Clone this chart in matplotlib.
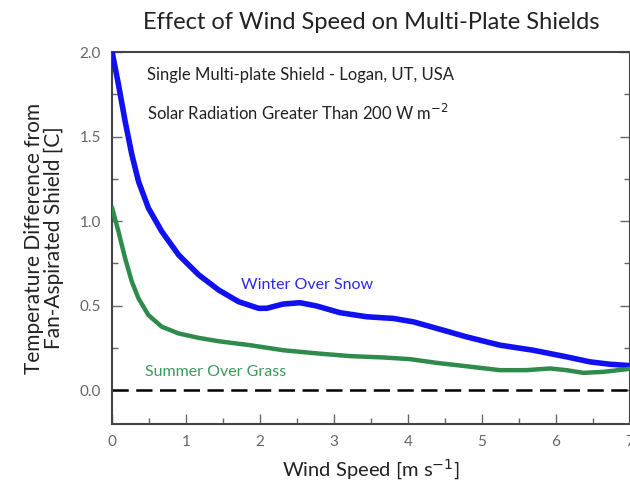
import matplotlib
matplotlib.use("Agg")
import matplotlib.pyplot as plt
from matplotlib.ticker import MultipleLocator, FormatStrFormatter

plt.rcParams['font.family'] = ['Lato', 'DejaVu Sans']

# Winter over snow (blue)
winter_x = [0.0, 0.085, 0.176, 0.266, 0.356, 0.49, 0.67, 0.90, 1.17, 1.44, 1.71, 1.98, 2.09,
            2.31, 2.54, 2.77, 3.08, 3.44, 3.80, 4.07, 4.39, 4.79, 5.24, 5.69, 6.14, 6.46,
            6.73, 7.0]
winter_y = [2.0, 1.81, 1.59, 1.395, 1.236, 1.078, 0.94, 0.80, 0.683, 0.593, 0.524, 0.485, 0.485,
            0.51, 0.518, 0.498, 0.459, 0.435, 0.425, 0.405, 0.366, 0.316, 0.267, 0.237, 0.198,
            0.168, 0.154, 0.146]

# Summer over grass (green)
summer_x = [0.0, 0.085, 0.176, 0.266, 0.356, 0.49, 0.67, 0.90, 1.17, 1.44, 1.86, 2.31, 2.77,
            3.22, 3.67, 4.03, 4.39, 4.79, 5.24, 5.60, 5.92, 6.14, 6.37, 6.64, 7.0]
summer_y = [1.078, 0.94, 0.78, 0.643, 0.544, 0.445, 0.376, 0.336, 0.31, 0.29, 0.267, 0.237,
            0.218, 0.202, 0.194, 0.184, 0.162, 0.142, 0.119, 0.119, 0.129, 0.119, 0.103,
            0.109, 0.127]

fig = plt.figure(figsize=(6.3, 4.88), dpi=100)
ax = fig.add_axes([0.178, 0.131, 0.822, 0.762])

ax.plot(winter_x, winter_y, color='#1010f0', lw=4.0, solid_joinstyle='round', zorder=3)
ax.plot(summer_x, summer_y, color='#2e8b4c', lw=3.2, solid_joinstyle='round', zorder=3)
ax.axhline(0.0, color='black', lw=1.8, dashes=(6.5, 3), zorder=2)

ax.set_xlim(0, 7)
ax.set_ylim(-0.2, 2.0)
ax.xaxis.set_major_locator(MultipleLocator(1))
ax.xaxis.set_minor_locator(MultipleLocator(0.5))
ax.yaxis.set_major_locator(MultipleLocator(0.5))
ax.yaxis.set_minor_locator(MultipleLocator(0.25))
ax.yaxis.set_major_formatter(FormatStrFormatter('%.1f'))
ax.tick_params(which='both', direction='in', top=False, right=True, colors='#666666',
               labelsize=11, width=1.0)
ax.tick_params(which='major', length=7, pad=8)
ax.tick_params(which='minor', length=4)
for s in ax.spines.values():
    s.set_color('#444444')
    s.set_linewidth(1.5)

ax.set_title('Effect of Wind Speed on Multi-Plate Shields', fontsize=17, color='#222222', pad=17)
ax.set_xlabel('Wind Speed [m s$^{-1}$]', fontsize=14.5, color='#222222', labelpad=6)
ax.set_ylabel('Temperature Difference from\nFan-Aspirated Shield [C]', fontsize=15,
              color='#222222', labelpad=11, linespacing=1.0)

ax.text(0.47, 1.863, 'Single Multi-plate Shield - Logan, UT, USA', fontsize=12,
        color='#222222', va='center')
ax.text(0.47, 1.638, 'Solar Radiation Greater Than 200 W m$^{-2}$', fontsize=12,
        color='#222222', va='center')
ax.text(1.74, 0.623, 'Winter Over Snow', fontsize=11.5, color='#2a2ae8', va='center')
ax.text(0.45, 0.107, 'Summer Over Grass', fontsize=11.5, color='#3a9a5a', va='center')

fig.savefig('out.png', dpi=100)
